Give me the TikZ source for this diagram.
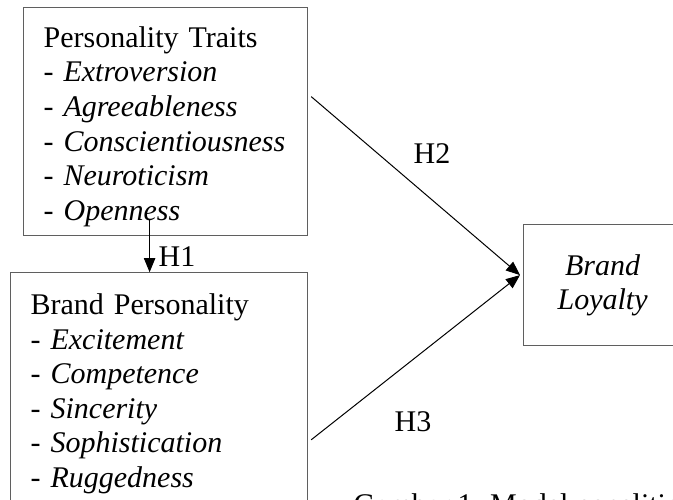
\documentclass[tikz,border=0pt]{standalone}
\usepackage{fontspec}
\setmainfont{Liberation Serif}
\usetikzlibrary{arrows.meta, positioning, calc}
\definecolor{bordercolor}{RGB}{95,95,95}
\newcommand{\toprule}{\rule{0pt}{23pt}}
\tikzset{
  base/.style={draw=bordercolor, line width=0.9pt, font=\fontsize{22.5}{25.9}\selectfont},
  listbox/.style={base, align=left, inner xsep=15pt, inner ysep=0pt},
  loyaltybox/.style={base, align=center, minimum width=118.5pt, minimum height=90.75pt},
  hyp/.style={font=\fontsize{22.5}{25.9}\selectfont, inner sep=1pt},
  arr/.style={-{Triangle[length=10.5pt, width=8.5pt]}, line width=0.75pt},
}
\begin{document}
\begin{tikzpicture}[x=0.75pt, y=-0.75pt]
  \useasboundingbox (0,0) rectangle (673,499);
  \clip (0,0) rectangle (673,499);

  % Personality traits
  \node[listbox, text width=183pt, minimum height=171pt, anchor=north west] (traits) at (23,7)
    {\toprule Personality Traits\\- \textit{Extroversion}\\- \textit{Agreeableness}\\- \textit{Conscientiousness}\\- \textit{Neuroticism}\\- \textit{Openness}};

  % Brand personality
  \node[listbox, text width=192.75pt, minimum height=174pt, below=27pt of traits.south east, anchor=north east] (brandpers)
    {\toprule Brand Personality\\- \textit{Excitement}\\- \textit{Competence}\\- \textit{Sincerity}\\- \textit{Sophistication}\\- \textit{Ruggedness}};

  % Brand loyalty
  \node[loyaltybox, anchor=north west] (loyalty) at (523,224) {\textit{Brand}\\\textit{Loyalty}};

  % H1
  \coordinate (h1from) at ($(traits.south)+(-16,-16)$);
  \draw[arr] (h1from) -- (h1from |- brandpers.north);

  % H2 and H3
  \coordinate (target) at ($(loyalty.west)+(-3,-10)$);
  \draw[arr] ($(traits.east)+(3,-25)$) -- (target);
  \draw[arr] ($(brandpers.east)+(3,51)$) -- (target);

  % Labels
  \node[hyp] (h1) at (177,257) {H1};
  \node[hyp] (h2) at (432,154) {H2};
  \node[hyp] (h3) at (413,422) {H3};

  % Caption
  \node[hyp, anchor=base west] (caption) at (352,514) {Gambar 1. Model penelitian};
\end{tikzpicture}
\end{document}
